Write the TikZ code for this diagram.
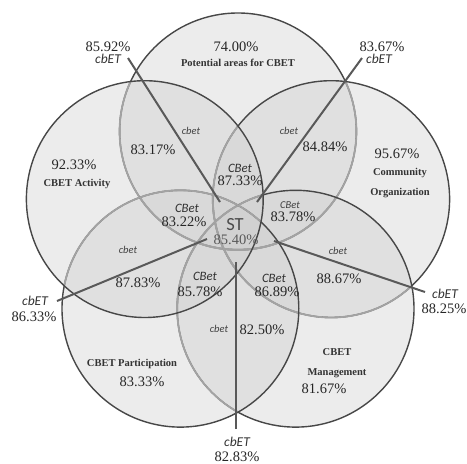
\documentclass[tikz,border=0pt]{standalone}
\usepackage{fontspec}
\setmainfont{Liberation Serif}
\newfontfamily\carl{Carlito}
\begin{document}
\begin{tikzpicture}[x=1pt,y=-1pt,
  pct/.style={inner sep=0pt, text height=0.68em, text depth=0pt, text=black!85, font=\fontsize{14.5}{15}\selectfont},
  lbl/.style={inner sep=0pt, text height=0.68em, text depth=0pt, text=black!80, font=\fontsize{10.5}{11}\selectfont\bfseries},
  cbbig/.style={inner sep=0pt, text height=0.64em, text depth=0pt, text=black!80, font=\carl\itshape\fontsize{13.5}{14}\selectfont},
  cbmid/.style={inner sep=0pt, text height=0.64em, text depth=0pt, text=black!80, font=\carl\itshape\fontsize{12.8}{13}\selectfont},
  cbsm/.style={inner sep=0pt, text height=0.64em, text depth=0pt, text=black!75, font=\carl\itshape\fontsize{10.5}{11}\selectfont},
  stlbl/.style={inner sep=0pt, text height=0.64em, text depth=0pt, text=black!70, font=\carl\fontsize{18.5}{19}\selectfont},
  circfill/.style={fill=black!20, fill opacity=0.37},
  darkline/.style={draw=black!72, line width=1.4pt},
  liteline/.style={draw=black!36, line width=1.8pt},
  spoke/.style={draw=black!65, line width=2pt}
]
\useasboundingbox (0,0) rectangle (467,464);
\def\R{118.4pt}
\coordinate (cT) at (238,131.4);
\coordinate (cR) at (331.2,199.1);
\coordinate (cBR) at (295.6,308.7);
\coordinate (cBL) at (180.4,308.7);
\coordinate (cL) at (144.8,199.1);
\newcommand{\lite}[2]{\begin{scope}\clip (#2) circle[radius=\R]; \draw[liteline] (#1) circle[radius=\R];\end{scope}}
% fills
\foreach \c in {cT,cR,cBR,cBL,cL} { \fill[circfill] (\c) circle[radius=\R]; }
% outlines
\draw[darkline] (cT) circle[radius=\R];
\lite{cT}{cR}\lite{cT}{cBR}\lite{cT}{cBL}\lite{cT}{cL}
\draw[darkline] (cR) circle[radius=\R];
\lite{cR}{cBR}\lite{cR}{cBL}\lite{cR}{cL}
\draw[darkline] (cBR) circle[radius=\R];
\lite{cBR}{cBL}\lite{cBR}{cL}
\draw[darkline] (cBL) circle[radius=\R];
\lite{cBL}{cL}
\draw[darkline] (cL) circle[radius=\R];
% spokes
\coordinate (ulo) at (128,58);  \coordinate (uli) at (220,202);
\coordinate (uro) at (362,58);  \coordinate (uri) at (257,202);
\coordinate (lo) at (57,301);   \coordinate (li) at (207,239);
\coordinate (ro) at (425,292);  \coordinate (ri) at (274,241);
\coordinate (bo) at (236,429);  \coordinate (bi) at (236,262);
\draw[spoke] (ulo) -- (uli);
\draw[spoke] (uro) -- (uri);
\draw[spoke] (lo) -- (li);
\draw[spoke] (ro) -- (ri);
\draw[spoke] (bo) -- (bi);
% texts top
\node[pct] (p7400) at (236,48) {74.00\%};
\node[lbl] (lpot) at (238,63) {Potential areas for CBET};
\node[pct] (p8592) at (108,48) {85.92\%};
\node[cbbig] (k1) at (108,60) {cbET};
\node[pct] (p8367) at (382,48) {83.67\%};
\node[cbbig] (k2) at (379,60) {cbET};
% upper
\node[cbsm] (s1) at (191,131) {cbet};
\node[cbsm] (s2) at (289,131) {cbet};
\node[pct] (p8317) at (153,151) {83.17\%};
\node[pct] (p8484) at (325,148) {84.84\%};
\node[pct] (p9233) at (74,166) {92.33\%};
\node[lbl] (lact) at (77,183) {CBET Activity};
\node[pct] (p9567) at (397,155) {95.67\%};
\node[lbl] (lcom) at (400,172) {Community};
\node[lbl] (lorg) at (400,192) {Organization};
% centre
\node[cbmid] (c1) at (240,169) {CBet};
\node[pct] (p8733) at (240,182.5) {87.33\%};
\node[cbmid] (c2) at (187,209) {CBet};
\node[pct] (p8322) at (184,223) {83.22\%};
\node[cbsm] (c3) at (290,205) {CBet};
\node[pct] (p8378) at (293,218) {83.78\%};
\node[stlbl] (st) at (235,227) {ST};
\node[pct, text=black!65] (p8540) at (236,241) {85.40\%};
\node[cbmid] (c4) at (205,277) {CBet};
\node[pct] (p8578) at (200,293) {85.78\%};
\node[cbmid] (c5) at (274,279) {CBet};
\node[pct] (p8689) at (277,293) {86.89\%};
% lower
\node[cbsm] (s3) at (128,250) {cbet};
\node[pct] (p8783) at (138,284) {87.83\%};
\node[cbsm] (s4) at (338,251) {cbet};
\node[pct] (p8867) at (339,280) {88.67\%};
\node[cbbig] (k3) at (35,302) {cbET};
\node[pct] (p8633) at (34,318) {86.33\%};
\node[cbbig] (k4) at (445,295) {cbET};
\node[pct] (p8825) at (444,310) {88.25\%};
\node[cbsm] (s5) at (219,329) {cbet};
\node[pct] (p8250) at (262,331) {82.50\%};
\node[lbl] (lpar) at (132,363) {CBET Participation};
\node[pct] (p8333) at (142,383) {83.33\%};
\node[lbl] (lcb) at (337,352) {CBET};
\node[lbl] (lman) at (337,372) {Management};
\node[pct] (p8167) at (324,390) {81.67\%};
\node[cbbig] (k5) at (237,443) {cbET};
\node[pct] (p8283) at (237,458.5) {82.83\%};
\end{tikzpicture}
\end{document}
